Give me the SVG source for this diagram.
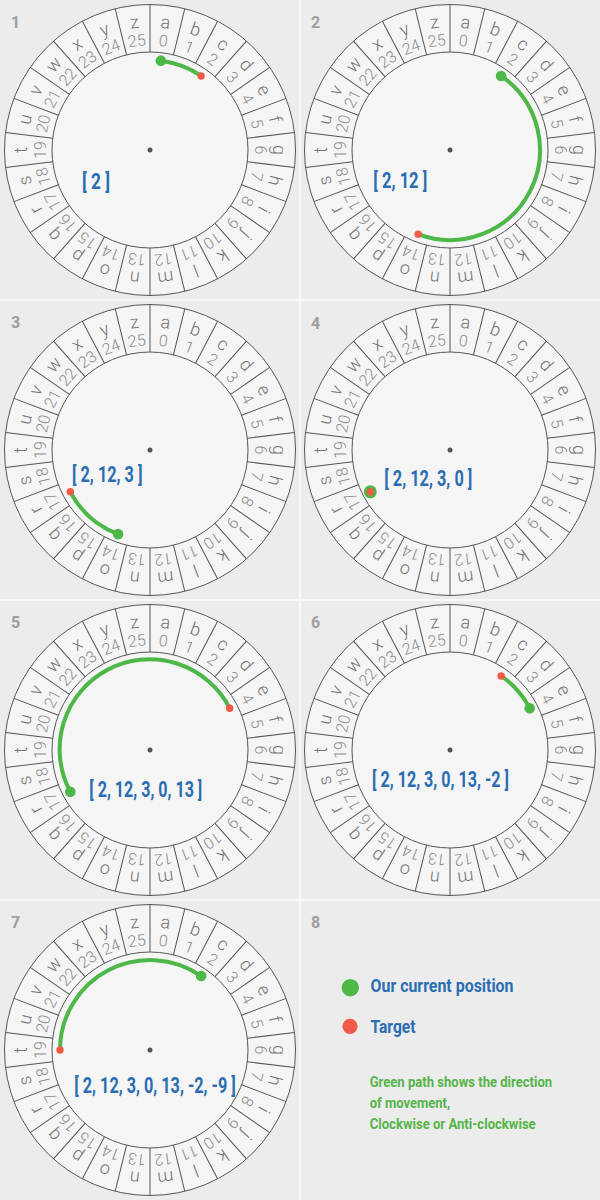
<svg xmlns="http://www.w3.org/2000/svg" xmlns:xlink="http://www.w3.org/1999/xlink" width="600" height="1200" viewBox="0 0 600 1200">
<style>
.ring{fill:#f5f5f5;stroke:#555;stroke-width:1}
.tk{stroke:#555;stroke-width:1}
.l{font-family:Roboto,"Liberation Sans",sans-serif;font-weight:300;font-size:18px;fill:#747474;text-anchor:middle}
.n{font-family:Roboto,"Liberation Sans",sans-serif;font-weight:300;font-size:16px;fill:#8c8c8c;text-anchor:middle}
.pn{font-family:Roboto,"Liberation Sans",sans-serif;font-weight:700;font-size:16px;fill:#9e9e9e}
.arr{font-family:Roboto,"Liberation Sans",sans-serif;font-weight:700;font-size:22px;fill:#2b6db3}
.arc{fill:none;stroke:#4db848;stroke-width:4;stroke-linecap:round}
.g{fill:#4db848}
.r{fill:#f05a46}
.lg{font-family:Roboto,"Liberation Sans",sans-serif;font-weight:700;font-size:19px;fill:#2b6db3}
.gt{font-family:Roboto,"Liberation Sans",sans-serif;font-weight:700;font-size:15px;fill:#55b449}
.div{stroke:#f8f8f8;stroke-width:2}
</style>
<defs>
<g id="wheel">
<circle r="145.5" class="ring"/>
<circle r="98" class="ring"/>
<g class="tk">
<line y1="-98" y2="-145.5"/>
<line y1="-98" y2="-145.5" transform="rotate(13.846)"/>
<line y1="-98" y2="-145.5" transform="rotate(27.692)"/>
<line y1="-98" y2="-145.5" transform="rotate(41.538)"/>
<line y1="-98" y2="-145.5" transform="rotate(55.385)"/>
<line y1="-98" y2="-145.5" transform="rotate(69.231)"/>
<line y1="-98" y2="-145.5" transform="rotate(83.077)"/>
<line y1="-98" y2="-145.5" transform="rotate(96.923)"/>
<line y1="-98" y2="-145.5" transform="rotate(110.769)"/>
<line y1="-98" y2="-145.5" transform="rotate(124.615)"/>
<line y1="-98" y2="-145.5" transform="rotate(138.462)"/>
<line y1="-98" y2="-145.5" transform="rotate(152.308)"/>
<line y1="-98" y2="-145.5" transform="rotate(166.154)"/>
<line y1="-98" y2="-145.5" transform="rotate(180)"/>
<line y1="-98" y2="-145.5" transform="rotate(193.846)"/>
<line y1="-98" y2="-145.5" transform="rotate(207.692)"/>
<line y1="-98" y2="-145.5" transform="rotate(221.538)"/>
<line y1="-98" y2="-145.5" transform="rotate(235.385)"/>
<line y1="-98" y2="-145.5" transform="rotate(249.231)"/>
<line y1="-98" y2="-145.5" transform="rotate(263.077)"/>
<line y1="-98" y2="-145.5" transform="rotate(276.923)"/>
<line y1="-98" y2="-145.5" transform="rotate(290.769)"/>
<line y1="-98" y2="-145.5" transform="rotate(304.615)"/>
<line y1="-98" y2="-145.5" transform="rotate(318.462)"/>
<line y1="-98" y2="-145.5" transform="rotate(332.308)"/>
<line y1="-98" y2="-145.5" transform="rotate(346.154)"/>
</g>
<g>
<text class="l" y="-122.7" transform="rotate(6.923)">a</text>
<text class="l" y="-122.7" transform="rotate(20.769)">b</text>
<text class="l" y="-122.7" transform="rotate(34.615)">c</text>
<text class="l" y="-122.7" transform="rotate(48.462)">d</text>
<text class="l" y="-122.7" transform="rotate(62.308)">e</text>
<text class="l" y="-122.7" transform="rotate(76.154)">f</text>
<text class="l" y="-122.7" transform="rotate(90)">g</text>
<text class="l" y="-122.7" transform="rotate(103.846)">h</text>
<text class="l" y="-122.7" transform="rotate(117.692)">i</text>
<text class="l" y="-122.7" transform="rotate(131.538)">j</text>
<text class="l" y="-122.7" transform="rotate(145.385)">k</text>
<text class="l" y="-122.7" transform="rotate(159.231)">l</text>
<text class="l" y="-122.7" transform="rotate(173.077)">m</text>
<text class="l" y="-122.7" transform="rotate(186.923)">n</text>
<text class="l" y="-122.7" transform="rotate(200.769)">o</text>
<text class="l" y="-122.7" transform="rotate(214.615)">p</text>
<text class="l" y="-122.7" transform="rotate(228.462)">q</text>
<text class="l" y="-122.7" transform="rotate(242.308)">r</text>
<text class="l" y="-122.7" transform="rotate(256.154)">s</text>
<text class="l" y="-122.7" transform="rotate(270)">t</text>
<text class="l" y="-122.7" transform="rotate(283.846)">u</text>
<text class="l" y="-122.7" transform="rotate(297.692)">v</text>
<text class="l" y="-122.7" transform="rotate(311.538)">w</text>
<text class="l" y="-122.7" transform="rotate(325.385)">x</text>
<text class="l" y="-122.7" transform="rotate(339.231)">y</text>
<text class="l" y="-122.7" transform="rotate(353.077)">z</text>
</g>
<g>
<text class="n" y="-104.5" transform="rotate(6.923)">0</text>
<text class="n" y="-104.5" transform="rotate(20.769)">1</text>
<text class="n" y="-104.5" transform="rotate(34.615)">2</text>
<text class="n" y="-104.5" transform="rotate(48.462)">3</text>
<text class="n" y="-104.5" transform="rotate(62.308)">4</text>
<text class="n" y="-104.5" transform="rotate(76.154)">5</text>
<text class="n" y="-104.5" transform="rotate(90)">6</text>
<text class="n" y="-104.5" transform="rotate(103.846)">7</text>
<text class="n" y="-104.5" transform="rotate(117.692)">8</text>
<text class="n" y="-104.5" transform="rotate(131.538)">9</text>
<text class="n" y="-104.5" transform="rotate(145.385)">10</text>
<text class="n" y="-104.5" transform="rotate(159.231)">11</text>
<text class="n" y="-104.5" transform="rotate(173.077)">12</text>
<text class="n" y="-104.5" transform="rotate(186.923)">13</text>
<text class="n" y="-104.5" transform="rotate(200.769)">14</text>
<text class="n" y="-104.5" transform="rotate(214.615)">15</text>
<text class="n" y="-104.5" transform="rotate(228.462)">16</text>
<text class="n" y="-104.5" transform="rotate(242.308)">17</text>
<text class="n" y="-104.5" transform="rotate(256.154)">18</text>
<text class="n" y="-104.5" transform="rotate(270)">19</text>
<text class="n" y="-104.5" transform="rotate(283.846)">20</text>
<text class="n" y="-104.5" transform="rotate(297.692)">21</text>
<text class="n" y="-104.5" transform="rotate(311.538)">22</text>
<text class="n" y="-104.5" transform="rotate(325.385)">23</text>
<text class="n" y="-104.5" transform="rotate(339.231)">24</text>
<text class="n" y="-104.5" transform="rotate(353.077)">25</text>
</g>
<circle r="2.5" fill="#555"/>
</g>
</defs>
<rect width="600" height="1200" fill="#ececec"/>
<g id="dividers" class="div">
<line x1="300" y1="0" x2="300" y2="1200"/>
<line x1="0" y1="300" x2="600" y2="300"/>
<line x1="0" y1="600" x2="600" y2="600"/>
<line x1="0" y1="900" x2="600" y2="900"/>
</g>
<g id="panel1">
<text class="pn" x="11" y="28">1</text>
<use xlink:href="#wheel" href="#wheel" transform="translate(150 150)"/>
<text class="arr" x="82" y="189.3" textLength="28" lengthAdjust="spacingAndGlyphs">[ 2 ]</text>
</g>
<g id="panel2" transform="translate(300 0)">
<text class="pn" x="11" y="28">2</text>
<use xlink:href="#wheel" href="#wheel" transform="translate(150 150)"/>
<text class="arr" x="73.3" y="188.3" textLength="54" lengthAdjust="spacingAndGlyphs">[ 2, 12 ]</text>
</g>
<g id="panel3" transform="translate(0 300)">
<text class="pn" x="11" y="28">3</text>
<use xlink:href="#wheel" href="#wheel" transform="translate(150 150)"/>
<text class="arr" x="72" y="181.7" textLength="70.5" lengthAdjust="spacingAndGlyphs">[ 2, 12, 3 ]</text>
</g>
<g id="panel4" transform="translate(300 300)">
<text class="pn" x="11" y="28.7">4</text>
<use xlink:href="#wheel" href="#wheel" transform="translate(150 150)"/>
<text class="arr" x="84.3" y="185.7" textLength="88" lengthAdjust="spacingAndGlyphs">[ 2, 12, 3, 0 ]</text>
</g>
<g id="panel5" transform="translate(0 600)">
<text class="pn" x="11" y="28">5</text>
<use xlink:href="#wheel" href="#wheel" transform="translate(150 150)"/>
<text class="arr" x="89.3" y="196.7" textLength="113" lengthAdjust="spacingAndGlyphs">[ 2, 12, 3, 0, 13 ]</text>
</g>
<g id="panel6" transform="translate(300 600)">
<text class="pn" x="11" y="28">6</text>
<use xlink:href="#wheel" href="#wheel" transform="translate(150 150)"/>
<text class="arr" x="72" y="186.7" textLength="137" lengthAdjust="spacingAndGlyphs">[ 2, 12, 3, 0, 13, -2 ]</text>
</g>
<g id="panel7" transform="translate(0 900)">
<text class="pn" x="11" y="28">7</text>
<use xlink:href="#wheel" href="#wheel" transform="translate(150 150)"/>
<text class="arr" x="74.3" y="193.3" textLength="161.5" lengthAdjust="spacingAndGlyphs">[ 2, 12, 3, 0, 13, -2, -9 ]</text>
</g>
<g id="connectors">
<g transform="translate(0 0)">
<path class="arc" d="M160.85,60.66 A90,90 0 0 1 201.13,75.93"/>
<circle class="g" cx="160.85" cy="60.66" r="5.3"/><circle class="r" cx="201.13" cy="75.93" r="3.7"/>
</g>
<g transform="translate(300 0)">
<path class="arc" d="M201.13,75.93 A90,90 0 0 1 118.09,234.15"/>
<circle class="g" cx="201.13" cy="75.93" r="5.3"/><circle class="r" cx="118.09" cy="234.15" r="3.7"/>
</g>
<g transform="translate(0 300)">
<path class="arc" d="M118.09,234.15 A90,90 0 0 1 70.31,191.82"/>
<circle class="g" cx="118.09" cy="234.15" r="5.3"/><circle class="r" cx="70.31" cy="191.82" r="3.7"/>
</g>
<g transform="translate(300 300)">
<circle class="g" cx="70.31" cy="191.82" r="6.5"/><circle class="r" cx="70.31" cy="191.82" r="3.7"/>
</g>
<g transform="translate(0 600)">
<path class="arc" d="M70.31,191.82 A90,90 0 1 1 229.69,108.18"/>
<circle class="g" cx="70.31" cy="191.82" r="5.3"/><circle class="r" cx="229.69" cy="108.18" r="3.7"/>
</g>
<g transform="translate(300 600)">
<path class="arc" d="M229.69,108.18 A90,90 0 0 0 201.13,75.93"/>
<circle class="g" cx="229.69" cy="108.18" r="5.3"/><circle class="r" cx="201.13" cy="75.93" r="3.7"/>
</g>
<g transform="translate(0 900)">
<path class="arc" d="M201.13,75.93 A90,90 0 0 0 60,150"/>
<circle class="g" cx="201.13" cy="75.93" r="5.3"/><circle class="r" cx="60" cy="150" r="3.7"/>
</g>
</g>
<g id="panel8">
<text class="pn" x="311" y="928">8</text>
<g id="legend-current">
<circle class="g" cx="350.3" cy="987.7" r="8.7"/>
<text class="lg" x="370.5" y="992.3" textLength="143" lengthAdjust="spacingAndGlyphs">Our current position</text>
</g>
<g id="legend-target">
<circle class="r" cx="350" cy="1026.3" r="7.6"/>
<text class="lg" x="370.5" y="1032.5" textLength="45" lengthAdjust="spacingAndGlyphs">Target</text>
</g>
<g id="legend-note">
<text class="gt" x="369.7" y="1087.3" textLength="182.5" lengthAdjust="spacingAndGlyphs">Green path shows the direction</text>
<text class="gt" x="369.7" y="1108.2" textLength="80.5" lengthAdjust="spacingAndGlyphs">of movement,</text>
<text class="gt" x="369.7" y="1129" textLength="166" lengthAdjust="spacingAndGlyphs">Clockwise or Anti-clockwise</text>
</g>
</g>
</svg>
